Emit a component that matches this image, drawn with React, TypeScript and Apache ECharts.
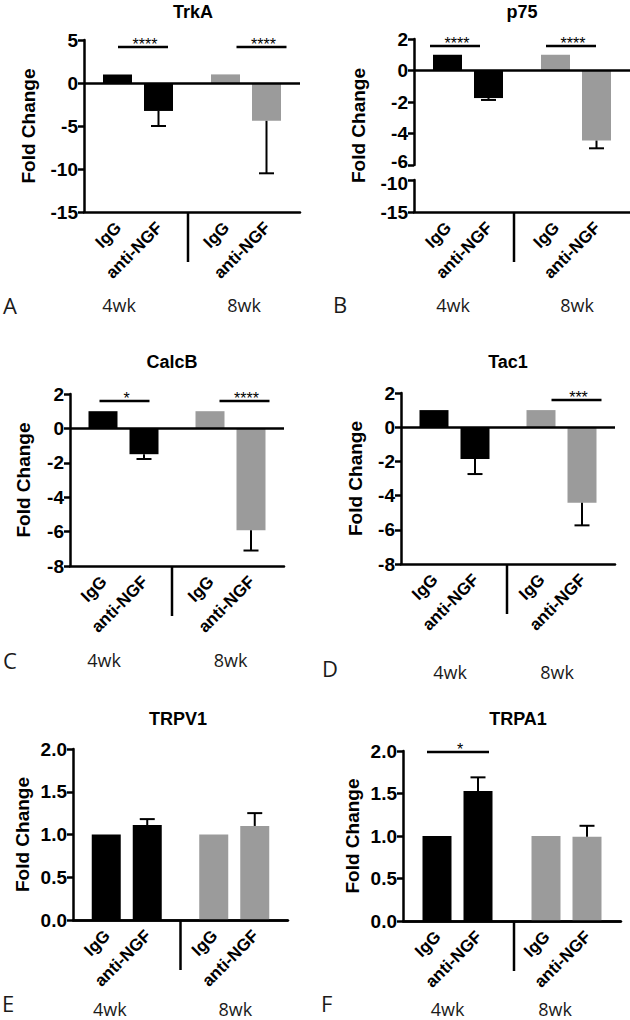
import React, { useEffect, useRef } from 'react';
import * as echarts from 'echarts';

// ---------- data ----------
const groups = ['4wk', '8wk'];
const treatments = ['IgG', 'anti-NGF'];
const groupColors = ['#000000', '#9b9b9b'];

// TrkA
const trkaIgG = [1, 1];
const trkaAnti = [-3.25, -4.4];
const trkaErr = [-5.0, -10.5];
const trkaSig = ['****', '****'];
const trkaTicks = [-15, -10, -5, 0, 5];

// p75 (broken axis)
const p75IgG = [1, 1];
const p75Anti = [-1.75, -4.45];
const p75Err = [-1.87, -4.94];
const p75Sig = ['****', '****'];
const p75Ticks = [-6, -4, -2, 0, 2];
const p75LowerTicks = [-15, -10];

// CalcB
const calcbIgG = [1, 1];
const calcbAnti = [-1.5, -5.92];
const calcbErr = [-1.78, -7.1];
const calcbSig = ['*', '****'];
const calcbTicks = [-8, -6, -4, -2, 0, 2];

// Tac1
const tac1IgG = [1, 1];
const tac1Anti = [-1.86, -4.42];
const tac1Err = [-2.74, -5.74];
const tac1Sig = ['', '***'];
const tac1Ticks = [-8, -6, -4, -2, 0, 2];

// TRPV1
const trpv1IgG = [1, 1];
const trpv1Anti = [1.11, 1.1];
const trpv1Err = [1.18, 1.25];
const trpv1Sig = ['', ''];
const trpv1Ticks = [0, 0.5, 1, 1.5, 2];

// TRPA1
const trpa1IgG = [1, 1];
const trpa1Anti = [1.53, 0.99];
const trpa1Err = [1.69, 1.12];
const trpa1Sig = ['*', ''];
const trpa1Ticks = [0, 0.5, 1, 1.5, 2];

// ---------- styling / layout ----------
const BOLD = '"Liberation Sans", Arial, sans-serif';
const PLAIN = '"Open Sans", "Noto Sans", sans-serif';
const BAR_W = 29;
const BAR_GAP = 12;
const LW = 2.5;

type Panel = {
  title: string; letter: string;
  igg: number[]; anti: number[]; err: number[]; sig: string[];
  ticks: number[]; lowerTicks?: number[]; decimals: number;
  left: number; top: number; width: number; height: number;
  lowerTop?: number; lowerHeight?: number;
  nameX: number;
  titleX: number; titleY: number;
  letterX: number; letterY: number;
  weekDy: number; weekShift: number[];
  sigShift: number[]; sigDy: number; sigHalf: number;
  sepShift: number;
};

const panels: Panel[] = [
  {
    title: 'TrkA', letter: 'A', igg: trkaIgG, anti: trkaAnti, err: trkaErr, sig: trkaSig,
    ticks: trkaTicks, decimals: 0,
    left: 84, top: 40, width: 216, height: 172, nameX: 28,
    titleX: 193, titleY: 12, letterX: 3, letterY: 305,
    weekDy: 84, weekShift: [-19, -2], sigShift: [5, 15.5], sigDy: 7, sigHalf: 25, sepShift: -4,
  },
  {
    title: 'p75', letter: 'B', igg: p75IgG, anti: p75Anti, err: p75Err, sig: p75Sig,
    ticks: p75Ticks, lowerTicks: p75LowerTicks, decimals: 0,
    left: 414, top: 39, width: 216, height: 126, lowerTop: 180, lowerHeight: 32, nameX: 358,
    titleX: 522, titleY: 12, letterX: 333, letterY: 304,
    weekDy: 84, weekShift: [-15, 1], sigShift: [-13, -5], sigDy: 7, sigHalf: 25, sepShift: -8,
  },
  {
    title: 'CalcB', letter: 'C', igg: calcbIgG, anti: calcbAnti, err: calcbErr, sig: calcbSig,
    ticks: calcbTicks, decimals: 0,
    left: 70, top: 394, width: 214, height: 172, nameX: 23,
    titleX: 172, titleY: 362, letterX: 3, letterY: 660,
    weekDy: 85, weekShift: [-19.5, 0], sigShift: [1, 14], sigDy: 7, sigHalf: 25, sepShift: -5,
  },
  {
    title: 'Tac1', letter: 'D', igg: tac1IgG, anti: tac1Anti, err: tac1Err, sig: tac1Sig,
    ticks: tac1Ticks, decimals: 0,
    left: 401, top: 393, width: 214, height: 171, nameX: 355,
    titleX: 508, titleY: 362, letterX: 322, letterY: 668,
    weekDy: 99, weekShift: [-4.5, -4.5], sigShift: [0, 15], sigDy: 7, sigHalf: 25, sepShift: -1,
  },
  {
    title: 'TRPV1', letter: 'E', igg: trpv1IgG, anti: trpv1Anti, err: trpv1Err, sig: trpv1Sig,
    ticks: trpv1Ticks, decimals: 1,
    left: 73, top: 749, width: 215, height: 171, nameX: 22,
    titleX: 178, titleY: 719, letterX: 2, letterY: 1003,
    weekDy: 80, weekShift: [-17, 1], sigShift: [0, 0], sigDy: 7, sigHalf: 25, sepShift: 0,
  },
  {
    title: 'TRPA1', letter: 'F', igg: trpa1IgG, anti: trpa1Anti, err: trpa1Err, sig: trpa1Sig,
    ticks: trpa1Ticks, decimals: 1,
    left: 403, top: 751, width: 218, height: 170, nameX: 352.5,
    titleX: 518, titleY: 719, letterX: 321, letterY: 1003,
    weekDy: 79, weekShift: [-10, -11.5], sigShift: [0.5, 0], sigDy: 1, sigHalf: 31, sepShift: 2,
  },
];

function weekRich(shift: number[]) {
  const rich: any = {};
  shift.forEach((s, i) => {
    rich['w' + i] = {
      fontSize: 18, fontFamily: PLAIN, color: '#1a1a1a', lineHeight: 18,
      padding: [0, s < 0 ? -2 * s : 0, 0, s > 0 ? 2 * s : 0],
    };
  });
  return rich;
}

// nudge: vertical shift (px) for the tick labels next to the axis break
function yAxisFor(
  gridIndex: number, ticks: number[], decimals: number,
  name?: string, nameGap?: number, nudge?: { value: number; dy: number },
) {
  const base = { fontSize: 19, fontWeight: 'bold', fontFamily: BOLD, color: '#000', lineHeight: 14 };
  const rich: any = { n: { ...base } };
  if (nudge) {
    rich.m = { ...base, padding: nudge.dy < 0 ? [0, 0, -2 * nudge.dy, 0] : [2 * nudge.dy, 0, 0, 0] };
  }
  return {
    type: 'value', gridIndex,
    min: ticks[0], max: ticks[ticks.length - 1], interval: ticks[1] - ticks[0],
    axisLine: { show: true, lineStyle: { color: '#000', width: LW } },
    axisTick: { show: true, length: 6, lineStyle: { color: '#000', width: LW } },
    axisLabel: {
      ...base, margin: 6,
      formatter: (v: number) => `{${nudge && v === nudge.value ? 'm' : 'n'}|${v.toFixed(decimals)}}`,
      rich,
    },
    splitLine: { show: false },
    name: name || '',
    nameLocation: 'middle', nameRotate: 90, nameGap: nameGap || 0,
    nameTextStyle: { fontSize: 19, fontWeight: 'bold', fontFamily: BOLD, color: '#000' },
  };
}

function buildOption() {
  const grid: any[] = [];
  const xAxis: any[] = [];
  const yAxis: any[] = [];
  const series: any[] = [];
  const graphic: any[] = [];

  panels.forEach((p) => {
    const hasLower = !!p.lowerTicks;
    const gi = grid.length;
    grid.push({ left: p.left, top: p.top, width: p.width, height: p.height });
    xAxis.push({
      type: 'category', gridIndex: gi, data: groups,
      axisLine: { show: !hasLower, onZero: false, lineStyle: { color: '#000', width: LW } },
      axisTick: { show: false },
      axisLabel: hasLower ? { show: false } : {
        interval: 0, margin: p.weekDy,
        formatter: (v: string, i: number) => `{w${i}|${v}}`, rich: weekRich(p.weekShift),
      },
      splitLine: { show: false },
    });
    const nameGap = p.left - p.nameX - 9.5;
    yAxis.push(yAxisFor(
      gi, p.ticks, p.decimals, hasLower ? '' : 'Fold Change', nameGap,
      hasLower ? { value: p.ticks[0], dy: -3.5 } : undefined,
    ));

    let bi = gi;
    if (hasLower) {
      const lt = p.lowerTicks as number[];
      bi = grid.length;
      grid.push({ left: p.left, top: p.lowerTop, width: p.width, height: p.lowerHeight });
      xAxis.push({
        type: 'category', gridIndex: bi, data: groups,
        axisLine: { show: true, onZero: false, lineStyle: { color: '#000', width: LW } },
        axisTick: { show: false },
        axisLabel: {
          interval: 0, margin: p.weekDy,
          formatter: (v: string, i: number) => `{w${i}|${v}}`, rich: weekRich(p.weekShift),
        },
        splitLine: { show: false },
      });
      yAxis.push(yAxisFor(bi, lt, p.decimals, '', 0, { value: lt[lt.length - 1], dy: 3.5 }));
      graphic.push({
        type: 'text', x: p.nameX, y: (p.top + (p.lowerTop as number) + (p.lowerHeight as number)) / 2,
        rotation: Math.PI / 2,
        style: { text: 'Fold Change', fontSize: 19, fontWeight: 'bold', fontFamily: BOLD, fill: '#000', align: 'center', verticalAlign: 'middle' },
      });
    }

    series.push({
      type: 'bar', name: treatments[0], xAxisIndex: gi, yAxisIndex: gi,
      barWidth: BAR_W, barGap: (BAR_GAP / BAR_W * 100).toFixed(1) + '%',
      data: p.igg.map((v, i) => ({ value: v, itemStyle: { color: groupColors[i] } })),
      markLine: {
        silent: true, symbol: ['none', 'none'], label: { show: false },
        lineStyle: { color: '#000', width: LW, type: 'solid' },
        data: [{ yAxis: 0 }],
      },
    });
    series.push({
      type: 'bar', name: treatments[1], xAxisIndex: gi, yAxisIndex: gi,
      barWidth: BAR_W, barGap: (BAR_GAP / BAR_W * 100).toFixed(1) + '%',
      data: p.anti.map((v, i) => ({ value: v, itemStyle: { color: groupColors[i] } })),
    });

    // error bars + significance brackets
    series.push({
      type: 'custom', xAxisIndex: gi, yAxisIndex: gi, silent: true, clip: false, z: 5,
      data: groups.map((g, i) => [i, p.anti[i], p.err[i]]),
      encode: { x: 0, y: 1 },
      renderItem: (params: any, api: any) => {
        const g = api.value(0);
        const c = api.coord([g, api.value(1)]);
        const e = api.coord([g, api.value(2)]);
        const off = (BAR_W + BAR_GAP) / 2;
        const x = c[0] + off;
        const st = { stroke: '#000', lineWidth: 2 };
        const children: any[] = [
          { type: 'line', shape: { x1: x, y1: c[1], x2: x, y2: e[1] }, style: st },
          { type: 'line', shape: { x1: x - 7.5, y1: e[1], x2: x + 7.5, y2: e[1] }, style: st },
        ];
        const s = p.sig[g];
        if (s) {
          const y = api.coord([g, p.ticks[p.ticks.length - 1]])[1] + p.sigDy;
          const sx = c[0] + p.sigShift[g];
          children.push({
            type: 'line', shape: { x1: sx - p.sigHalf, y1: y, x2: sx + p.sigHalf, y2: y },
            style: { stroke: '#000', lineWidth: LW },
          });
          children.push({
            type: 'text', x: sx + 2, y: y - 3,
            style: { text: s, fontSize: 16, fontFamily: BOLD, fill: '#000', align: 'center', verticalAlign: 'middle' },
          });
        }
        return { type: 'group', children };
      },
    });

    // rotated tick labels + group separator
    const bottomMin = hasLower ? (p.lowerTicks as number[])[0] : p.ticks[0];
    series.push({
      type: 'custom', xAxisIndex: bi, yAxisIndex: bi, silent: true, clip: false, z: 5,
      data: groups.map((g, i) => [i, bottomMin]),
      encode: { x: 0, y: 1 },
      renderItem: (params: any, api: any) => {
        const g = api.value(0);
        const c = api.coord([g, api.value(1)]);
        const band = api.size([1, 0])[0];
        const off = (BAR_W + BAR_GAP) / 2;
        const children: any[] = treatments.map((t, k) => ({
          type: 'text', x: c[0] + (k === 0 ? -off : off) + 1, y: c[1] + 13, rotation: Math.PI / 4,
          style: { text: t, fontSize: 17, fontWeight: 'bold', fontFamily: BOLD, fill: '#000', align: 'right', verticalAlign: 'middle' },
        }));
        if (g === 0) {
          const sx = c[0] + band / 2 + p.sepShift;
          children.push({
            type: 'line', shape: { x1: sx, y1: c[1], x2: sx, y2: c[1] + 50 },
            style: { stroke: '#000', lineWidth: LW },
          });
        }
        return { type: 'group', children };
      },
    });

    graphic.push({
      type: 'text', x: p.titleX, y: p.titleY,
      style: { text: p.title, fontSize: 18, fontWeight: 'bold', fontFamily: BOLD, fill: '#000', align: 'center', verticalAlign: 'middle' },
    });
    graphic.push({
      type: 'text', x: p.letterX, y: p.letterY,
      style: { text: p.letter, fontSize: 22, lineHeight: 22, fontFamily: PLAIN, fill: '#1a1a1a', align: 'left', verticalAlign: 'middle' },
    });
  });

  return { animation: false, backgroundColor: '#ffffff', grid, xAxis, yAxis, series, graphic };
}

export default function App() {
  const ref = useRef<HTMLDivElement>(null);
  useEffect(() => {
    if (!ref.current) return;
    const chart = echarts.init(ref.current, undefined, { renderer: 'svg' });
    chart.setOption(buildOption() as any);
    return () => chart.dispose();
  }, []);
  return (
    <div
      ref={ref}
      style={{ position: 'absolute', left: 0, top: 0, width: 630, height: 1020, background: '#fff' }}
    />
  );
}
